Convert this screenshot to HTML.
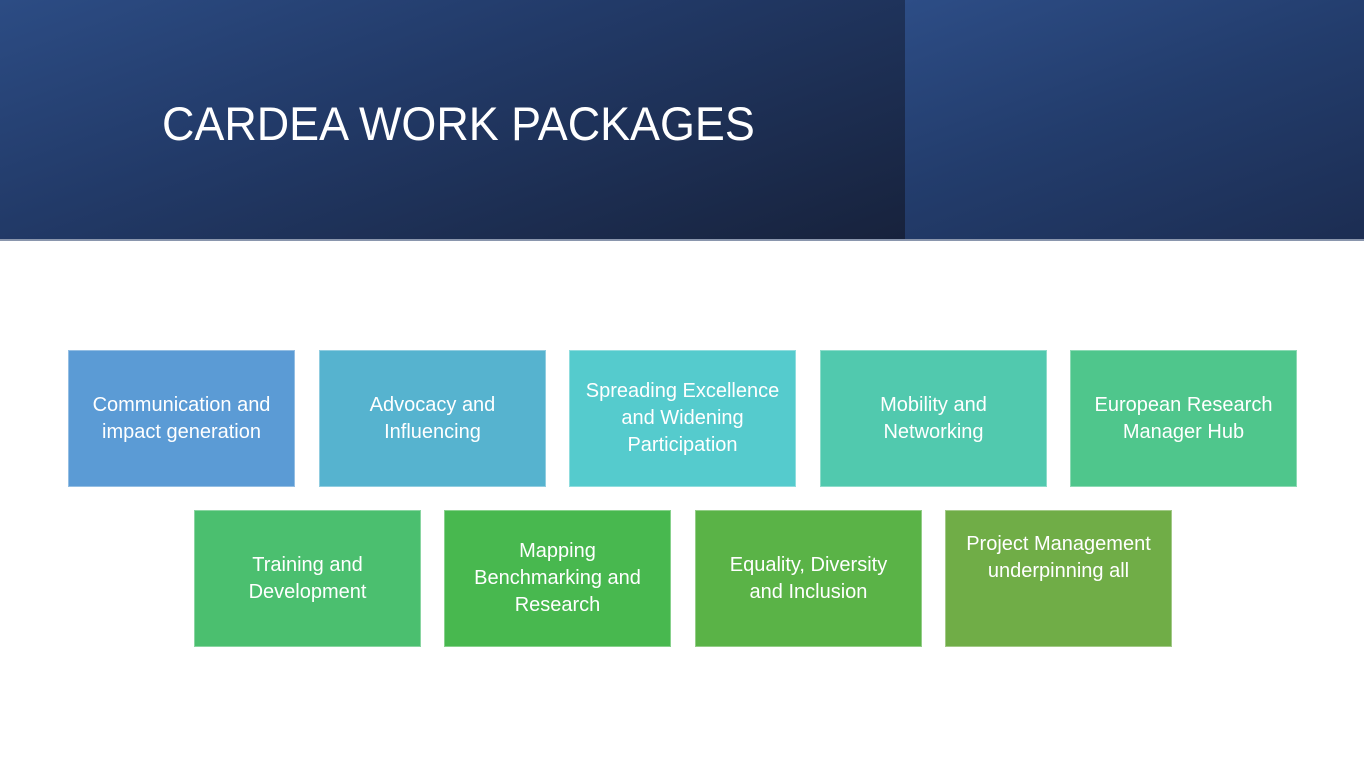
<!DOCTYPE html>
<html><head><meta charset="utf-8"><style>
*{margin:0;padding:0;box-sizing:border-box}
body{width:1364px;height:757px;background:#fff;position:relative;overflow:hidden;font-family:"Liberation Sans",sans-serif}
.h1{position:absolute;left:0;top:0;width:905px;height:240px;background:linear-gradient(160deg,#2c4c84 0%,#223a68 40%,#17223c 100%)}
.h2{position:absolute;left:905px;top:0;width:459px;height:240px;background:linear-gradient(160deg,#2d4d86 0%,#233d6d 45%,#1c2d52 100%)}
.line{position:absolute;left:0;top:239px;width:1364px;height:2px;background:#8a96ad}
.title{position:absolute;left:162px;top:96px;color:#fff;font-size:47px;white-space:nowrap;transform-origin:left top;transform:scaleX(0.955)}
.b{position:absolute;width:227px;height:137px;color:#fff;font-size:20px;line-height:27px;text-align:center;display:flex;align-items:center;justify-content:center;padding:0 6px;border:1px solid rgba(255,255,255,.35)}
.t{align-items:flex-start;padding-top:20px}
</style></head><body>
<div class="h1"></div><div class="h2"></div><div class="line"></div>
<div class="title">CARDEA WORK PACKAGES</div>
<div class="b" style="left:68px;top:350px;background:#5b9bd5">Communication and<br>impact generation</div>
<div class="b" style="left:319px;top:350px;background:#56b3cf">Advocacy and<br>Influencing</div>
<div class="b" style="left:569px;top:350px;background:#55cbcd">Spreading Excellence<br>and Widening<br>Participation</div>
<div class="b" style="left:820px;top:350px;background:#51c9ae">Mobility and<br>Networking</div>
<div class="b" style="left:1070px;top:350px;background:#4fc68c">European Research<br>Manager Hub</div>
<div class="b" style="left:194px;top:510px;background:#4bbf6f">Training and<br>Development</div>
<div class="b" style="left:444px;top:510px;background:#48b84f">Mapping<br>Benchmarking and<br>Research</div>
<div class="b" style="left:695px;top:510px;background:#5ab347">Equality, Diversity<br>and Inclusion</div>
<div class="b t" style="left:945px;top:510px;background:#70ad47">Project Management<br>underpinning all</div>
</body></html>
